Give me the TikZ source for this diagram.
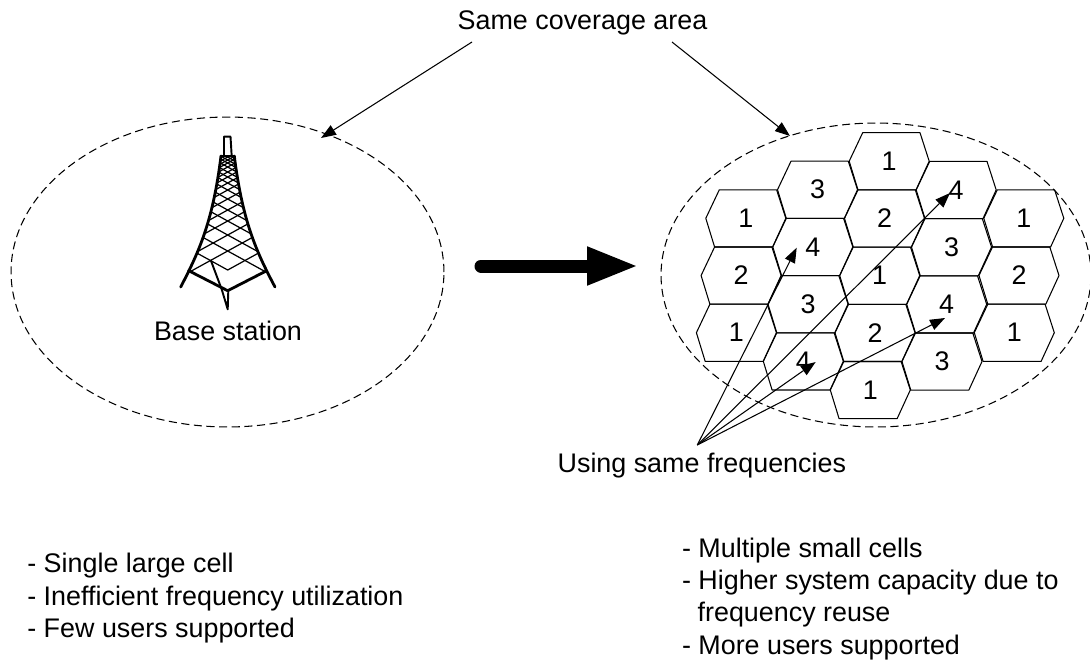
\documentclass[tikz,border=0pt]{standalone}
\usepackage{fontspec}
\setmainfont{Liberation Sans}
\usepackage{tikz}
\usetikzlibrary{shapes.geometric,arrows.meta}
\tikzstyle{arrow} = [line width=0.6pt,->,>={Triangle[length=0.3cm,width=0.22cm]}]
\tikzstyle{arrow_big} = [line width=0.26cm,line cap=round,->,>={Triangle[length=1.04cm,width=0.7cm]}]
\tikzstyle{area} = [ellipse, draw, line width=0.6pt, dash pattern=on 4.6pt off 2.6pt, inner sep=0pt]
\tikzstyle{cell} = [draw, line width=0.6pt, line join=round]
\tikzstyle{label_text} = [anchor=base west, inner sep=0pt, font=\fontsize{15.3pt}{18pt}\selectfont]
\tikzstyle{mast} = [line width=1.6pt, line cap=round, line join=round]
\tikzstyle{mast_thin} = [line width=1.1pt, line join=round]
\tikzstyle{brace} = [line width=0.7pt]
\newcommand{\hexcell}[4]{
    \node (#1) at (#2,#3) [inner sep=0pt, font=\fontsize{15.3pt}{18pt}\selectfont] {#4};
    \draw [cell, shift={(#2,#3)}] (-26.5,-28.5) -- (30.8,-28.5) -- (40,0) -- (26.8,28.7) -- (-31.2,28.7) -- (-40,0) -- cycle;
}
\begin{document}
\begin{tikzpicture}[x=0.02cm,y=-0.02cm]
    \useasboundingbox (0,0) rectangle (1090,660);

    \node (area_large) [area, minimum width=8.66cm, minimum height=6.2cm] at (227.5,272) {};
    \node (area_small) [area, minimum width=8.6cm, minimum height=6.08cm] at (876,275) {};

    % tower
    \begin{scope}
        \clip (221,156) .. controls (213,220) and (200,250) .. (180.7,287) -- (275,287) .. controls (255.4,250) and (242.4,220) .. (234.3,156) -- cycle;
        \clip (170,156) rectangle (285,271);
        \draw [brace] (127.7,215) -- (227.7,270) -- (327.7,215);
        \foreach \ly in {251,235,221,210,199,190,183,177,172,167,163,160,157} {
            \draw [brace] (127.7,\ly-55) -- (327.7,\ly+55);
            \draw [brace] (127.7,\ly+55) -- (327.7,\ly-55);
        }
    \end{scope}
    \draw [mast] (221,156) .. controls (213,220) and (200,250) .. (180.7,287);
    \draw [mast] (234.3,156) .. controls (242.4,220) and (255.4,250) .. (275,287);
    \draw [mast] (221,156) -- (234.3,156);
    \draw [mast_thin] (224,156) -- (224,136.7) -- (230.5,136.7) -- (231.7,156);
    \draw [mast] (188.7,270.7) -- (227.7,290.7) -- (266.7,270.7);
    \draw [mast_thin] (210.7,260) -- (221.7,289.3) -- (227.7,309.3) -- (228.3,290.7);
    \node (station) [label_text, anchor=base] at (228,340) {Base station};

    % cells
    \hexcell{cell_a1}{745.8}{218.3}{1}
    \hexcell{cell_a2}{741.1}{275.5}{2}
    \hexcell{cell_a3}{736.4}{332.7}{1}
    \hexcell{cell_b1}{817.5}{189.7}{3}
    \hexcell{cell_b2}{812.8}{246.9}{4}
    \hexcell{cell_b3}{808}{304.1}{3}
    \hexcell{cell_b4}{803.3}{361.3}{4}
    \hexcell{cell_c1}{889.2}{161.2}{1}
    \hexcell{cell_c2}{884.5}{218.4}{2}
    \hexcell{cell_c3}{879.7}{275.6}{1}
    \hexcell{cell_c4}{875}{332.8}{2}
    \hexcell{cell_c5}{870.3}{390}{1}
    \hexcell{cell_d1}{956.2}{189.9}{4}
    \hexcell{cell_d2}{951.5}{247.1}{3}
    \hexcell{cell_d3}{946.7}{304.3}{4}
    \hexcell{cell_d4}{942}{361.5}{3}
    \hexcell{cell_e1}{1023.8}{218.3}{1}
    \hexcell{cell_e2}{1019}{275.5}{2}
    \hexcell{cell_e3}{1014.3}{332.7}{1}

    % labels
    \node (coverage) [label_text, anchor=base] at (582.5,29) {Same coverage area};
    \node (frequencies) [label_text] at (557.3,472) {Using same frequencies};
    \node (large_a) [label_text] at (27,572.7) {- Single large cell};
    \node (large_b) [label_text] at (27,605) {- Inefficient frequency utilization};
    \node (large_c) [label_text] at (27,637.7) {- Few users supported};
    \node (small_a) [label_text] at (681.7,557) {- Multiple small cells};
    \node (small_b) [label_text] at (681.7,589) {- Higher system capacity due to};
    \node (small_c) [label_text] at (697.3,621.7) {frequency reuse};
    \node (small_d) [label_text] at (681.7,654) {- More users supported};

    \coordinate (coverage_left) at (472,42);
    \coordinate (coverage_right) at (672,42);
    \coordinate (large_edge) at (321,138);
    \coordinate (small_edge) at (790,136);
    \coordinate (reuse_start) at (697.3,445);
    \coordinate (reuse_b2) at (796.7,247.7);
    \coordinate (reuse_b4) at (815.7,362);
    \coordinate (reuse_d1) at (950,193);
    \coordinate (reuse_d3) at (945,318);
    \coordinate (big_start) at (481,266);
    \coordinate (big_end) at (639,266);

    \draw [arrow] (coverage_left) -- (large_edge);
    \draw [arrow] (coverage_right) -- (small_edge);
    \draw [arrow] (reuse_start) -- (reuse_b2);
    \draw [arrow] (reuse_start) -- (reuse_b4);
    \draw [arrow] (reuse_start) -- (reuse_d1);
    \draw [arrow] (reuse_start) -- (reuse_d3);
    \draw [arrow_big] (big_start) -- (big_end);
\end{tikzpicture}
\end{document}
